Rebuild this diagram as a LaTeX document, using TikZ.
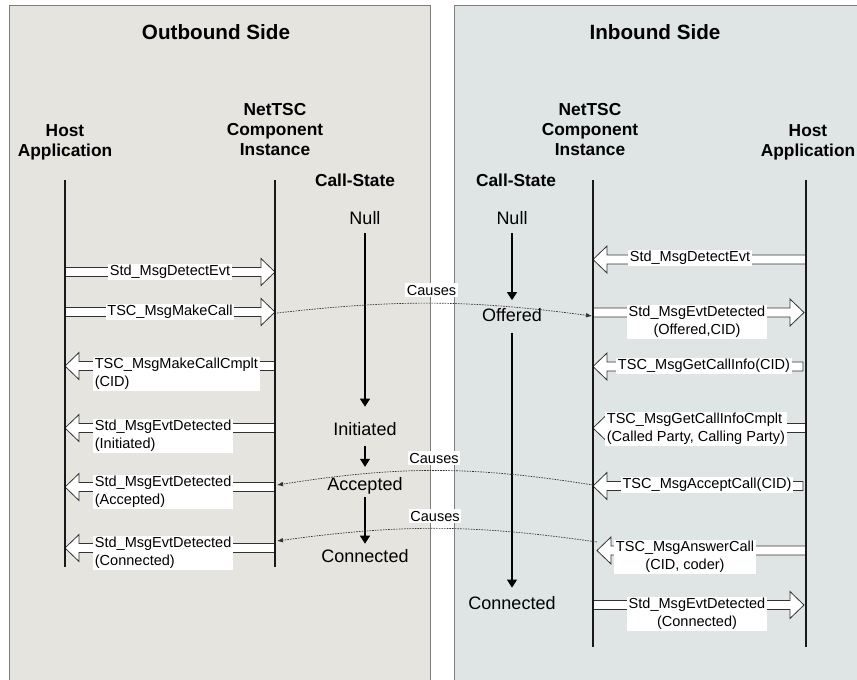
\documentclass[tikz,border=0pt]{standalone}
\usepackage{fontspec}
\setmainfont{Liberation Sans}
\usetikzlibrary{calc,arrows.meta}
\definecolor{outfill}{RGB}{229,228,222}
\definecolor{infill}{RGB}{222,229,228}
\definecolor{frame}{RGB}{125,125,125}
\begin{document}
\begin{tikzpicture}[x=0.75pt,y=-0.75pt,
  panel/.style={draw=frame, line width=0.75pt},
  title/.style={font=\fontsize{15.5}{18}\selectfont\bfseries},
  hdr/.style={font=\fontsize{13}{15}\selectfont\bfseries, align=center},
  callstate/.style={font=\fontsize{13.5}{16}\selectfont, inner sep=0pt},
  msg/.style={fill=white, inner sep=1.2pt, font=\fontsize{10.9}{13.5}\selectfont},
  life/.style={line width=1.5pt, black!90},
  block/.style={draw=black!80, fill=white, line width=0.6pt, line join=miter,
    to path={($(\tikztostart)+(0,3.4pt)$) -- ($(\tikztotarget)+(#1,3.4pt)$)
      -- ($(\tikztotarget)+(#1,10.1pt)$) -- (\tikztotarget)
      -- ($(\tikztotarget)+(#1,-10.1pt)$) -- ($(\tikztotarget)+(#1,-3.4pt)$)
      -- ($(\tikztostart)+(0,-3.4pt)$) -- cycle}},
  rblock/.style={block=-10.5pt},
  lblock/.style={block=10.5pt},
  cause/.style={dash pattern=on 1.2pt off 0.8pt, black!80, line width=0.5pt,
    -{Latex[length=4.5pt,width=3.5pt]}},
  stateflow/.style={line width=0.8pt, black, -{Triangle[length=6pt,width=7.5pt]}},
]
\useasboundingbox (0,0) rectangle (857,679);

% the two sides
\fill[white] (0,0) rectangle (857,679);
\draw[panel, fill=outfill] (9,5) rectangle (430,690);
\draw[panel, fill=infill] (454,5) rectangle (870,690);

\node[title] (tout) at (216,32) {Outbound Side};
\node[title] (tin) at (655,32) {Inbound Side};

% column headers
\node[hdr] (hostL) at (65,142) {Host\\Application};
\node[hdr] (tscL) at (275,130) {NetTSC\\Component\\Instance};
\node[hdr] (csL) at (355,180) {Call-State};
\node[hdr] (tscR) at (590,130) {NetTSC\\Component\\Instance};
\node[hdr] (hostR) at (808,142) {Host\\Application};
\node[hdr] (csR) at (516,180) {Call-State};

% lifeline ends
\coordinate (hL0) at (65,180);  \coordinate (hL1) at (65,567);
\coordinate (tL0) at (275,180); \coordinate (tL1) at (275,567);
\coordinate (tR0) at (593,180); \coordinate (tR1) at (593,647);
\coordinate (hR0) at (806,180); \coordinate (hR1) at (806,647);

% message ends, outbound side
\coordinate (m1s) at (65,272);  \coordinate (m1e) at (275,272);
\coordinate (m2s) at (65,312);  \coordinate (m2e) at (275,312);
\coordinate (m3s) at (275,366); \coordinate (m3e) at (65,366);
\coordinate (m4s) at (275,428); \coordinate (m4e) at (65,428);
\coordinate (m5s) at (275,487); \coordinate (m5e) at (65,487);
\coordinate (m6s) at (275,548); \coordinate (m6e) at (65,548);
% message ends, inbound side
\coordinate (n1s) at (806,259.5); \coordinate (n1e) at (593,259.5);
\coordinate (n2s) at (593,312.5); \coordinate (n2e) at (804,312.5);
\coordinate (n3s) at (803,366.5); \coordinate (n3e) at (593,366.5);
\coordinate (n4s) at (806,428);   \coordinate (n4e) at (593,428);
\coordinate (n5s) at (803,486);   \coordinate (n5e) at (593,486);
\coordinate (n6s) at (806,550.5); \coordinate (n6e) at (597,550.5);
\coordinate (n7s) at (593,605);   \coordinate (n7e) at (804,605);

% block arrows
\draw[rblock] (m1s) to (m1e);
\draw[rblock] (m2s) to (m2e);
\draw[lblock] (m3s) to (m3e);
\draw[lblock] (m4s) to (m4e);
\draw[lblock] (m5s) to (m5e);
\draw[lblock] (m6s) to (m6e);
\draw[lblock] (n1s) to (n1e);
\draw[rblock] (n2s) to (n2e);
\draw[lblock] (n3s) to (n3e);
\draw[lblock] (n4s) to (n4e);
\draw[lblock] (n5s) to (n5e);
\draw[lblock] (n6s) to (n6e);
\draw[rblock] (n7s) to (n7e);

% lifelines
\draw[life] (hL0) -- (hL1);
\draw[life] (tL0) -- (tL1);
\draw[life] (tR0) -- (tR1);
\draw[life] (hR0) -- (hR1);

% call states
\node[callstate] (nullL) at (365,218) {Null};
\node[callstate] (initL) at (365,429) {Initiated};
\node[callstate] (accL) at (365,486) {Accepted};
\node[callstate] (conL) at (365,556) {Connected};
\node[callstate] (nullR) at (512,218) {Null};
\node[callstate] (offR) at (512,315) {Offered};
\node[callstate] (conR) at (512,603) {Connected};

\draw[stateflow, shorten <=6.4pt, shorten >=11.6pt] (nullL) -- (initL);
\draw[stateflow, shorten <=7.9pt, shorten >=7.9pt] (initL) -- (accL);
\draw[stateflow, shorten <=1.9pt, shorten >=4.1pt] (accL) -- (conL);
\draw[stateflow, shorten <=6.4pt, shorten >=6pt] (nullR) -- (offR);
\draw[stateflow, shorten <=8.3pt, shorten >=6.4pt] (offR) -- (conR);

% cause links
\coordinate (c1s) at (277,313); \coordinate (c1e) at (592,316);
\coordinate (c2s) at (593,485); \coordinate (c2e) at (277,485);
\coordinate (c3s) at (597,542); \coordinate (c3e) at (277,541);
\draw[cause] (c1s) to[bend left=7] (c1e);
\draw[cause] (c2s) to[bend right=9] (c2e);
\draw[cause] (c3s) to[bend right=8] (c3e);
\node[msg] (k1) at (431.5,290) {Causes};
\node[msg] (k2) at (434,458) {Causes};
\node[msg] (k3) at (435,516) {Causes};

% message labels, outbound side
\node[msg] (l1) at (170,272) {Std\_MsgDetectEvt};
\node[msg] (l2) at (170,312) {TSC\_MsgMakeCall};
\node[msg, anchor=west, align=left] (l3) at (93,374) {TSC\_MsgMakeCallCmplt\\(CID)};
\node[msg, anchor=west, align=left] (l4) at (93,436) {Std\_MsgEvtDetected\\(Initiated)};
\node[msg, anchor=west, align=left] (l5) at (93,492) {Std\_MsgEvtDetected\\(Accepted)};
\node[msg, anchor=west, align=left] (l6) at (93,553) {Std\_MsgEvtDetected\\(Connected)};

% message labels, inbound side
\node[msg] (r1) at (690,258) {Std\_MsgDetectEvt};
\node[msg, align=center] (r2) at (697,322) {Std\_MsgEvtDetected\\(Offered,CID)};
\node[msg] (r3) at (704,366) {TSC\_MsgGetCallInfo(CID)};
\node[msg, align=left] (r4) at (696,429) {TSC\_MsgGetCallInfoCmplt\\(Called Party, Calling Party)};
\node[msg] (r5) at (707,485) {TSC\_MsgAcceptCall(CID)};
\node[msg, align=center] (r6) at (685,557) {TSC\_MsgAnswerCall\\(CID, coder)};
\node[msg, align=center] (r7) at (697,614) {Std\_MsgEvtDetected\\(Connected)};
\end{tikzpicture}
\end{document}
